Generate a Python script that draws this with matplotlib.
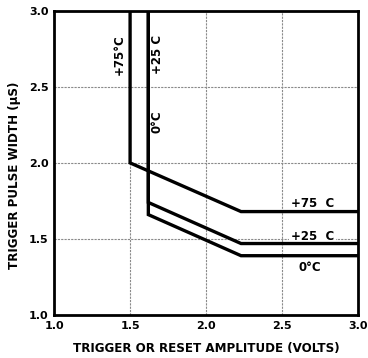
import matplotlib
matplotlib.use("Agg")
import matplotlib.pyplot as plt

# Data
x_75 = [1.50, 1.50, 2.23, 3.00]
y_75 = [3.00, 2.00, 1.68, 1.68]
x_25 = [1.62, 1.62, 2.23, 3.00]
y_25 = [3.00, 1.74, 1.47, 1.47]
x_0 = [1.62, 1.62, 2.23, 3.00]
y_0 = [3.00, 1.66, 1.39, 1.39]

xticks = [1.0, 1.5, 2.0, 2.5, 3.0]
yticks = [1.0, 1.5, 2.0, 2.5, 3.0]
xtick_labels = ["1.0", "1.5", "2.0", "2.5", "3.0"]
ytick_labels = ["1.0", "1.5", "2.0", "2.5", "3.0"]

plt.rcParams['font.family'] = ['DejaVu Sans']

fig = plt.figure(figsize=(3.68, 3.58), dpi=100)
ax = fig.add_axes([0.147, 0.120, 0.826, 0.850])

ax.set_xlim(1.0, 3.0)
ax.set_ylim(1.0, 3.0)
ax.set_xticks(xticks)
ax.set_yticks(yticks)
ax.set_xticklabels(xtick_labels, fontsize=8, fontweight='bold')
ax.set_yticklabels(ytick_labels, fontsize=8, fontweight='bold')
ax.tick_params(length=0, pad=4)
ax.grid(True, color='#8a8a8a', linewidth=0.8, linestyle=(0, (2, 1)))
ax.set_axisbelow(True)
for s in ax.spines.values():
    s.set_linewidth(2.0)
    s.set_color('black')

lw = 2.4
ax.plot(x_75, y_75, color='black', lw=lw, solid_joinstyle='miter', zorder=3)
ax.plot(x_25, y_25, color='black', lw=lw, solid_joinstyle='miter', zorder=3)
ax.plot(x_0, y_0, color='black', lw=lw, solid_joinstyle='miter', zorder=3)

tk = dict(fontsize=8.5, fontweight='bold', ha='center', va='center', zorder=2.5)
ax.text(1.43, 2.71, "+75°C", rotation=90, **tk)
ax.text(1.68, 2.71, "+25 C", rotation=90, **tk)
ax.text(1.68, 2.27, "0°C", rotation=90, **tk)
ax.text(2.70, 1.73, "+75  C", **tk)
ax.text(2.70, 1.515, "+25  C", bbox=dict(facecolor='white', edgecolor='none', pad=1.0), **tk)
ax.text(2.68, 1.31, "0°C", **tk)

ax.set_xlabel("TRIGGER OR RESET AMPLITUDE (VOLTS)", fontsize=8.6, fontweight='bold')
ax.set_ylabel("TRIGGER PULSE WIDTH (µS)", fontsize=8.6, fontweight='bold')
ax.xaxis.set_label_coords(0.5, -0.087)
ax.yaxis.set_label_coords(-0.108, 0.46)

fig.savefig("out.png", dpi=100)
